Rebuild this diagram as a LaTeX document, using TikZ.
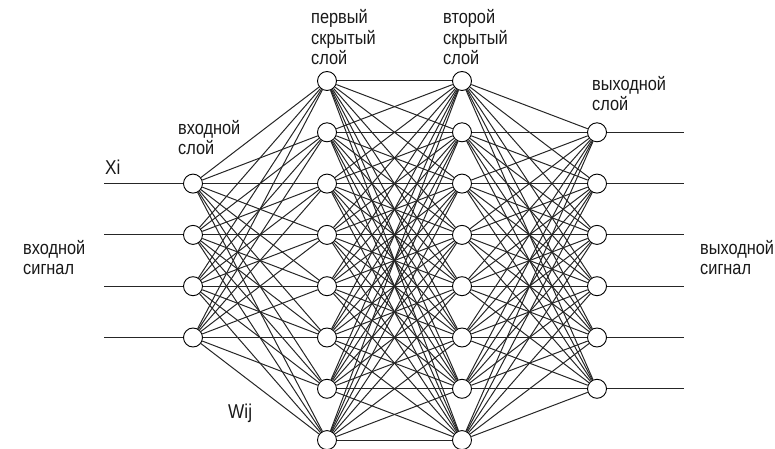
\documentclass[tikz,border=0pt]{standalone}
\usepackage{fontspec}
\setmainfont{Liberation Sans}[FakeStretch=0.86]
\tikzset{
  neuron/.style={
    draw,
    circle,
    fill=white,
    line width=0.9bp,
    minimum size=19bp,
    inner sep=0pt
  },
  weight/.style={
    draw=black!85,
    line width=1bp
  },
  caption/.style={
    anchor=base west,
    align=left,
    inner sep=0pt,
    font=\fontsize{19bp}{20.5bp}\selectfont,
    text=black!90
  }
}
\begin{document}
\begin{tikzpicture}[x=1bp,y=-1bp]
\useasboundingbox (0,0) rectangle (775,449);

% layers
\foreach \i in {1,...,4}
  \node[neuron] (in\i) at (193,{81+51.3*(\i+1)}) {};
\foreach \i in {1,...,8}
  \node[neuron] (ha\i) at (327,{81+51.3*(\i-1)}) {};
\foreach \i in {1,...,8}
  \node[neuron] (hb\i) at (462,{81+51.3*(\i-1)}) {};
\foreach \i in {1,...,6}
  \node[neuron] (out\i) at (597,{81+51.3*\i}) {};

% signal ends
\foreach \i in {1,...,4}
  \coordinate (x\i) at (104,{81+51.3*(\i+1)});
\foreach \i in {1,...,6}
  \coordinate (y\i) at (684,{81+51.3*\i});

% connections
\foreach \i in {1,...,4}
  \draw[weight] (x\i) -- (in\i);
\foreach \i in {1,...,4}
  \foreach \j in {1,...,8}
    \draw[weight] (in\i) -- (ha\j);
\foreach \i in {1,...,8}
  \foreach \j in {1,...,8}
    \draw[weight] (ha\i) -- (hb\j);
\foreach \i in {1,...,8}
  \foreach \j in {1,...,6}
    \draw[weight] (hb\i) -- (out\j);
\foreach \i in {1,...,6}
  \draw[weight] (out\i) -- (y\i);

% labels (base = last line)
\node[caption] (first) at (311,65) {первый\\скрытый\\слой};
\node[caption] (second) at (443,65) {второй\\скрытый\\слой};
\node[caption] (outlayer) at (592,111) {выходной\\слой};
\node[caption] (inlayer) at (178,155) {входной\\слой};
\node[caption] (insignal) at (23,275) {входной\\сигнал};
\node[caption] (outsignal) at (700,275) {выходной\\сигнал};
\node[caption, font=\fontsize{20bp}{22bp}\selectfont] (xi) at (105,175) {Xi};
\node[caption, font=\fontsize{20bp}{22bp}\selectfont] (wij) at (228,418) {Wij};

\end{tikzpicture}
\end{document}
